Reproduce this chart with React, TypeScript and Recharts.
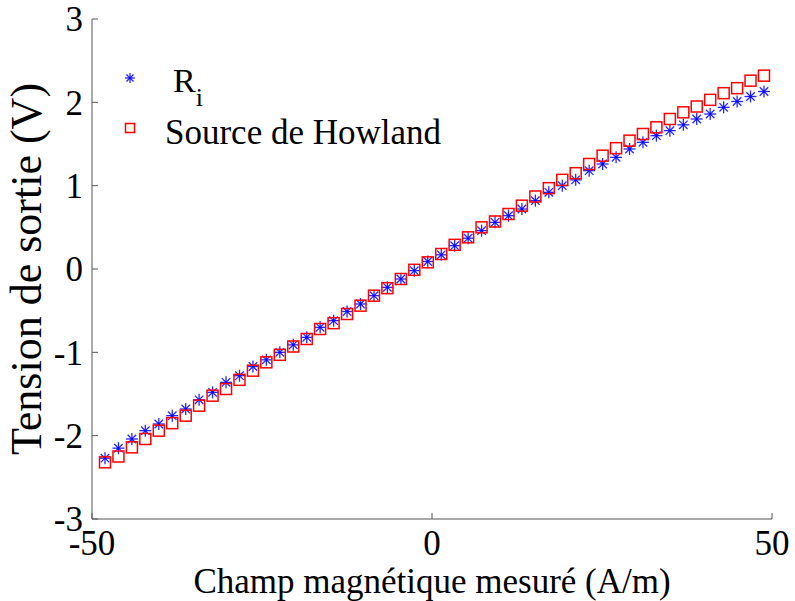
import React from "react";
import { ScatterChart, Scatter, XAxis, YAxis } from "recharts";

// Champ magnétique mesuré (A/m)
const champ = [
  -48.09, -46.11, -44.13, -42.16, -40.18, -38.2, -36.22, -34.25, -32.27, -30.29,
  -28.31, -26.33, -24.36, -22.38, -20.4, -18.42, -16.45, -14.47, -12.49, -10.51,
  -8.53, -6.56, -4.58, -2.6, -0.62, 1.36, 3.33, 5.31, 7.29, 9.27,
  11.25, 13.22, 15.2, 17.18, 19.16, 21.13, 23.11, 25.09, 27.07, 29.05,
  31.02, 33.0, 34.98, 36.96, 38.93, 40.91, 42.89, 44.87, 46.84, 48.82,
];

// Tension de sortie (V) - R_i
const tensionRi = [
  -2.27, -2.15, -2.04, -1.94, -1.86, -1.76, -1.68, -1.57, -1.48, -1.36,
  -1.28, -1.17, -1.09, -1.0, -0.91, -0.82, -0.7, -0.62, -0.51, -0.42,
  -0.32, -0.22, -0.12, -0.02, 0.09, 0.17, 0.28, 0.37, 0.46, 0.56,
  0.64, 0.72, 0.82, 0.92, 1.0, 1.07, 1.18, 1.26, 1.34, 1.44,
  1.52, 1.6, 1.66, 1.73, 1.8, 1.86, 1.94, 2.01, 2.07, 2.13,
];

// Tension de sortie (V) - Source de Howland
const tensionHowland = [
  -2.32, -2.25, -2.14, -2.04, -1.94, -1.85, -1.76, -1.64, -1.52, -1.44,
  -1.33, -1.22, -1.12, -1.03, -0.93, -0.84, -0.72, -0.65, -0.54, -0.44,
  -0.32, -0.23, -0.12, -0.01, 0.08, 0.18, 0.29, 0.38, 0.5, 0.57,
  0.66, 0.76, 0.87, 0.97, 1.07, 1.15, 1.26, 1.36, 1.45, 1.54,
  1.62, 1.7, 1.8, 1.88, 1.95, 2.03, 2.11, 2.17, 2.26, 2.32,
];

const xTicks = [-50, 0, 50];
const yTicks = [-3, -2, -1, 0, 1, 2, 3];

const riData = champ.map((x, i) => ({ x, y: tensionRi[i] }));
const howlandData = champ.map((x, i) => ({ x, y: tensionHowland[i] }));

const FONT = "'Liberation Serif', 'Times New Roman', serif";
const BLUE = "#0000ff";
const RED = "#ff0000";

const Star = ({ cx, cy, r = 6 }: { cx?: number; cy?: number; r?: number }) => {
  if (cx == null || cy == null) return null;
  const d = r * 0.707;
  return (
    <g stroke={BLUE} strokeWidth={1.3} strokeOpacity={0.85}>
      <line x1={cx - r} y1={cy} x2={cx + r} y2={cy} />
      <line x1={cx} y1={cy - r} x2={cx} y2={cy + r} />
      <line x1={cx - d} y1={cy - d} x2={cx + d} y2={cy + d} />
      <line x1={cx - d} y1={cy + d} x2={cx + d} y2={cy - d} />
    </g>
  );
};

const Square = ({ cx, cy, s = 11 }: { cx?: number; cy?: number; s?: number }) => {
  if (cx == null || cy == null) return null;
  return (
    <rect
      x={cx - s / 2}
      y={cy - s / 2}
      width={s}
      height={s}
      fill="none"
      stroke={RED}
      strokeWidth={1.5}
    />
  );
};

// legend drawn as an overlay so it takes no room from the plot
const LegendBox = () => (
  <svg
    width={400}
    height={110}
    style={{ position: "absolute", left: 90, top: 56, overflow: "visible", pointerEvents: "none" }}
  >
    <Star cx={40} cy={22} r={5} />
    <text x={83} y={36} fontFamily={FONT} fontSize={34} fill="#000">
      R
      <tspan fontSize={26} dy={14}>i</tspan>
    </text>
    <Square cx={40} cy={72} s={9} />
    <text x={75} y={88} fontFamily={FONT} fontSize={35} fill="#000">
      Source de Howland
    </text>
  </svg>
);

const YLabel = ({ viewBox }: any) => {
  const x = viewBox.x - 6;
  const y = viewBox.y + viewBox.height / 2;
  return (
    <text
      x={x}
      y={y}
      transform={`rotate(-90, ${x}, ${y})`}
      textAnchor="middle"
      dominantBaseline="central"
      fontFamily={FONT}
      fontSize={44}
      fill="#000"
    >
      Tension de sortie (V)
    </text>
  );
};

const XLabel = ({ viewBox }: any) => {
  const x = viewBox.x + viewBox.width / 2;
  const y = viewBox.y + 74;
  return (
    <text x={x} y={y} textAnchor="middle" fontFamily={FONT} fontSize={35} fill="#000">
      Champ magnétique mesuré (A/m)
    </text>
  );
};

export default function App() {
  return (
    <div style={{ position: "absolute", left: 0, top: 0, width: 795, height: 601, background: "#fff" }}>
      <ScatterChart
        width={795}
        height={601}
        margin={{ top: 19, right: 23, bottom: 22, left: 32 }}
      >
        <XAxis
          type="number"
          dataKey="x"
          domain={[-50, 50]}
          ticks={xTicks}
          interval={0}
          height={60}
          stroke="#555"
          tickSize={-6}
          tickMargin={17}
          tick={{ fill: "#000", fontFamily: FONT, fontSize: 35 }}
          label={<XLabel />}
        />
        <YAxis
          type="number"
          dataKey="y"
          domain={[-3, 3]}
          ticks={yTicks}
          interval={0}
          width={60}
          stroke="#555"
          tickSize={-6}
          tickMargin={15}
          tick={{ fill: "#000", fontFamily: FONT, fontSize: 35 }}
          label={<YLabel />}
        />
        <Scatter name="Ri" data={riData} shape={<Star />} isAnimationActive={false} />
        <Scatter name="Source de Howland" data={howlandData} shape={<Square />} isAnimationActive={false} />
      </ScatterChart>
      <LegendBox />
    </div>
  );
}
